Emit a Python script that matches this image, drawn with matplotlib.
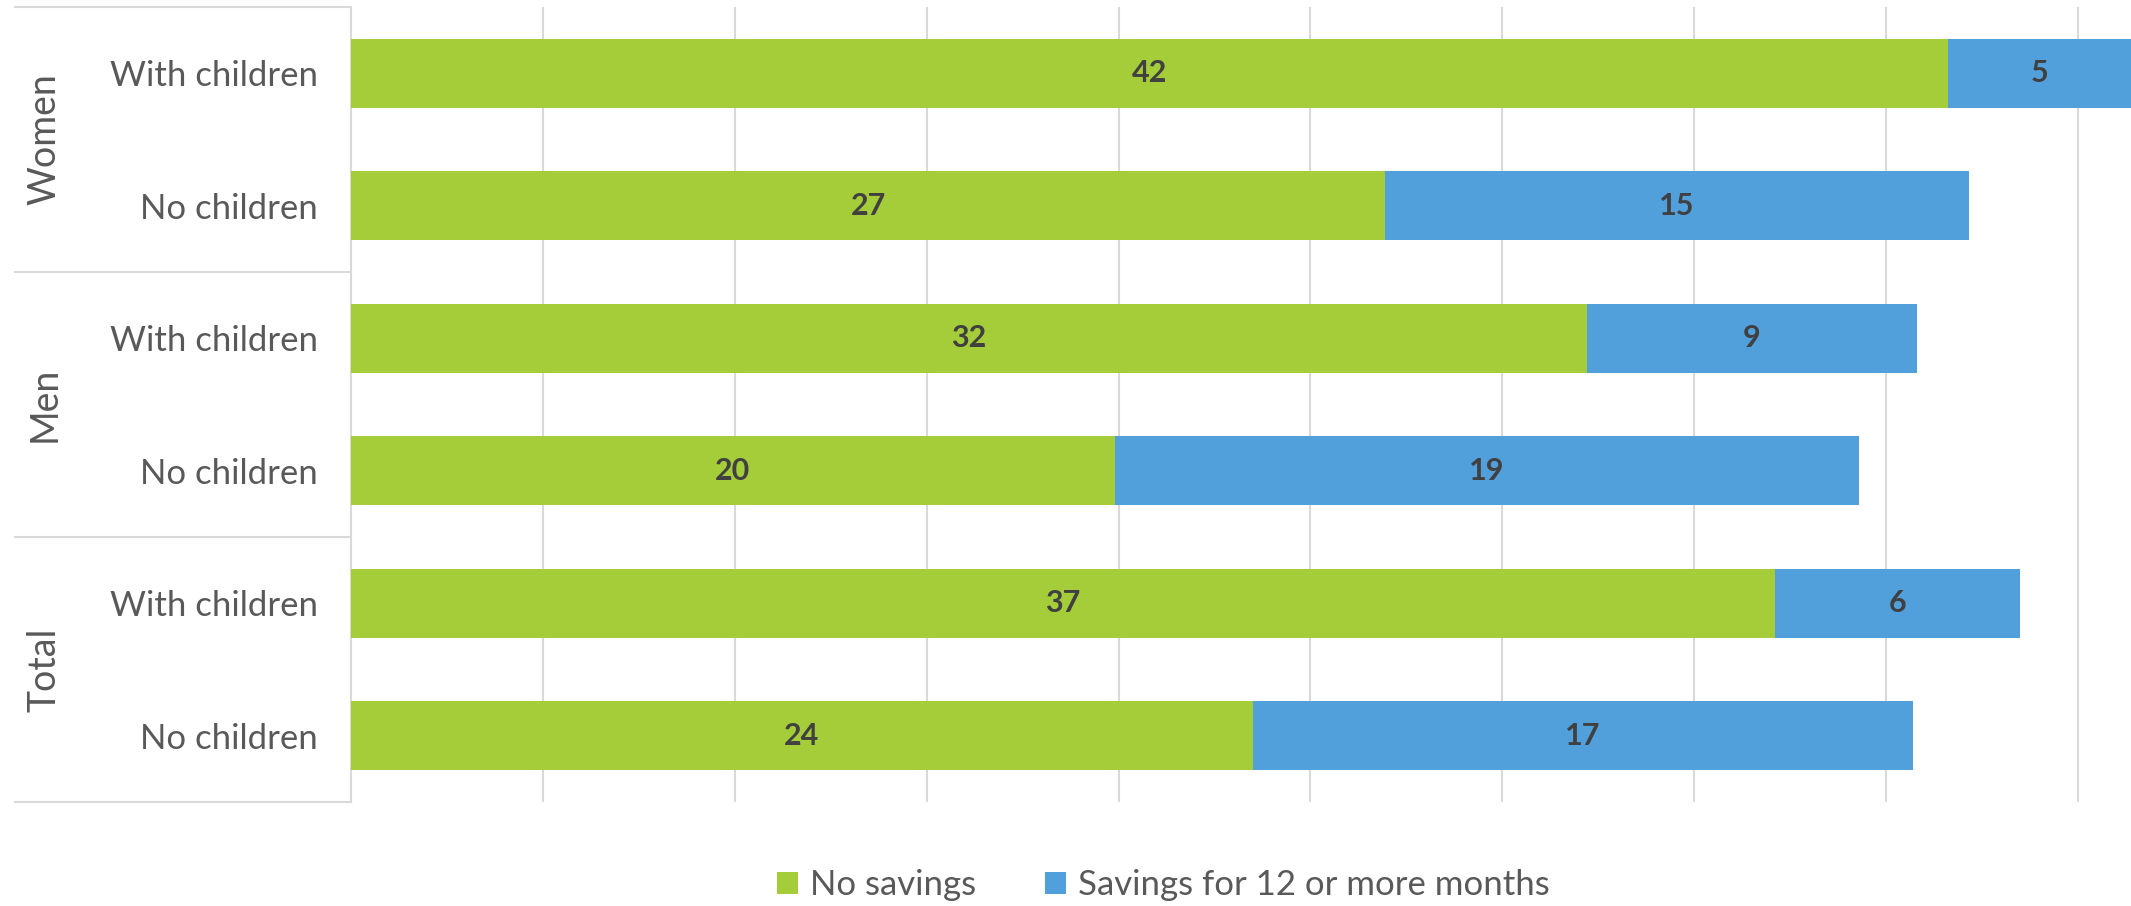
import matplotlib
matplotlib.use('Agg')
import matplotlib.pyplot as plt
import numpy as np

plt.rcParams['font.family'] = ['Lato', 'DejaVu Sans']

# categories from top to bottom
groups = ['Women', 'Men', 'Total']
categories = ['With children', 'No children'] * 3
no_savings = [41.6, 26.95, 32.2, 19.9, 37.1, 23.5]
savings_12m = [5.0, 15.2, 8.6, 19.4, 6.4, 17.2]

green = '#A5CD39'
blue = '#519FDB'
grid_col = '#D9D9D9'
text_col = '#595959'

fig = plt.figure(figsize=(21.31, 9.06), dpi=100)
ax = fig.add_axes([0.1647, 0.1148, 1 - 0.1647, 0.9923 - 0.1148])

y = np.arange(len(categories))
xmax = 46.38
ax.barh(y, no_savings, height=0.52, color=green, label='No savings', zorder=3)
ax.barh(y, savings_12m, left=no_savings, height=0.52, color=blue,
        label='Savings for 12 or more months', zorder=3)

# value labels (centred on the visible part of each segment)
for i in range(len(categories)):
    a = no_savings[i]
    b = savings_12m[i]
    ax.text(a / 2, y[i], f'{a:.0f}', ha='center', va='center',
            fontsize=22, fontweight='bold', color='#404040', zorder=4)
    right = min(a + b, xmax)
    ax.text((a + right) / 2, y[i], f'{b:.0f}', ha='center', va='center',
            fontsize=22, fontweight='bold', color='#404040', zorder=4)

ax.set_xlim(0, xmax)
ax.set_ylim(len(categories) - 0.5, -0.5)
ax.set_xticks(np.arange(5, 50, 5))
ax.set_xticklabels([])
ax.tick_params(axis='x', length=0)
ax.grid(axis='x', color=grid_col, linewidth=1.5, zorder=0)
ax.set_yticks(y)
ax.set_yticklabels(categories, fontsize=25, color=text_col)
ax.tick_params(axis='y', length=0, pad=24)

for s in ['top', 'right', 'bottom']:
    ax.spines[s].set_visible(False)
ax.spines['left'].set_color(grid_col)
ax.spines['left'].set_linewidth(1.5)

# category table lines and group labels
tr = ax.get_yaxis_transform()
for yy in [-0.5, 1.5, 3.5, 5.5]:
    ax.plot([-0.189, 0], [yy, yy], color=grid_col, linewidth=1.5,
            transform=tr, clip_on=False)
for k, g in enumerate(groups):
    ax.text(-0.172, 2 * k + 0.5, g, rotation=90, ha='center', va='center',
            fontsize=27, color=text_col, transform=tr)

fig.legend(loc='center', bbox_to_anchor=(0.546, 0.023), ncol=2, frameon=False,
           fontsize=25, labelcolor=text_col, handlelength=0.6, handleheight=0.6,
           handletextpad=0.35, columnspacing=2.0)

fig.savefig('out.png', dpi=100)
